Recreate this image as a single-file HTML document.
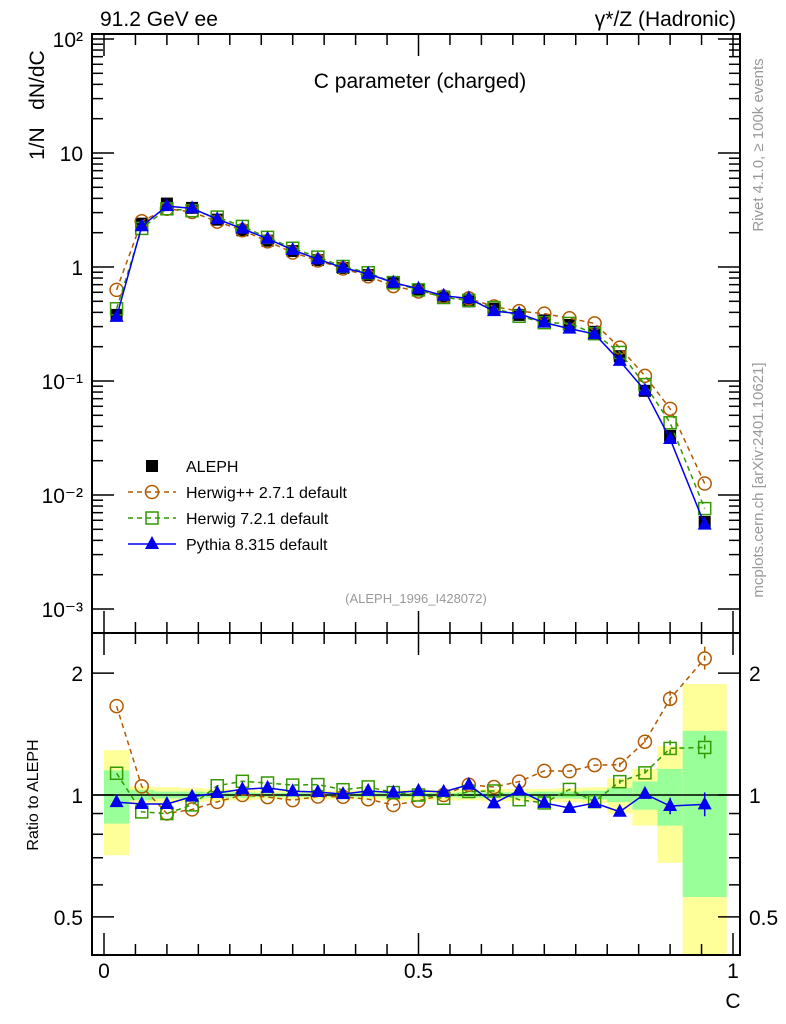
<!DOCTYPE html>
<html><head><meta charset="utf-8">
<style>
html,body{margin:0;padding:0;background:#fff;width:786px;height:1024px;overflow:hidden;}
svg{display:block;font-family:"Liberation Sans",sans-serif;}
</style></head>
<body>
<svg id="chart" width="786" height="1024" viewBox="0 0 786 1024" xmlns="http://www.w3.org/2000/svg">
<text x="100" y="26" font-size="21">91.2 GeV ee</text>
<text x="736" y="26" font-size="21" text-anchor="end">γ*/Z (Hadronic)</text>
<text x="420" y="88" font-size="21" text-anchor="middle">C parameter (charged)</text>
<text transform="translate(44,160) rotate(-90)" font-size="21">1/N&#160;&#160;&#160;dN/dC</text>
<text transform="translate(38,795) rotate(-90)" font-size="16" text-anchor="middle">Ratio to ALEPH</text>
<text x="733" y="1008" font-size="21" text-anchor="middle">C</text>
<text transform="translate(763,145) rotate(-90)" font-size="15" fill="#999" text-anchor="middle">Rivet 4.1.0, ≥ 100k events</text>
<text transform="translate(763,480) rotate(-90)" font-size="15" fill="#999" text-anchor="middle">mcplots.cern.ch [arXiv:2401.10621]</text>
<text x="416" y="603" font-size="13" fill="#999" text-anchor="middle">(ALEPH_1996_I428072)</text>
<g id="g"></g>
</svg>
<script>
const binLo = [0,0.04,0.08,0.12,0.16,0.20,0.24,0.28,0.32,0.36,0.40,0.44,0.48,0.52,0.56,0.60,0.64,0.68,0.72,0.76,0.80,0.84,0.88,0.92];
const binHi = [0.04,0.08,0.12,0.16,0.20,0.24,0.28,0.32,0.36,0.40,0.44,0.48,0.52,0.56,0.60,0.64,0.68,0.72,0.76,0.80,0.84,0.88,0.92,0.99];
const aleph = [0.38,2.4,3.6,3.3,2.6,2.1,1.7,1.38,1.15,0.98,0.85,0.72,0.63,0.55,0.5,0.43,0.38,0.34,0.31,0.27,0.165,0.082,0.033,0.0058];
const statErr = [0.15,0.03,0.02,0.02,0.015,0.015,0.012,0.012,0.012,0.012,0.012,0.012,0.012,0.012,0.015,0.015,0.015,0.02,0.02,0.025,0.04,0.08,0.16,0.44];
const totErr = [0.29,0.05,0.045,0.04,0.035,0.03,0.025,0.025,0.025,0.025,0.025,0.03,0.03,0.03,0.03,0.035,0.035,0.035,0.04,0.045,0.10,0.16,0.32,0.88];
const herwigpp = [0.63,2.52,3.24,3.04,2.5,2.1,1.68,1.34,1.14,0.97,0.83,0.68,0.61,0.55,0.53,0.45,0.41,0.39,0.355,0.32,0.196,0.111,0.057,0.0126];
const herwig7 = [0.43,2.18,3.24,3.12,2.74,2.27,1.82,1.46,1.22,1.01,0.89,0.73,0.63,0.54,0.51,0.44,0.37,0.325,0.32,0.26,0.178,0.093,0.043,0.0076];
const pythia = [0.365,2.28,3.42,3.27,2.63,2.17,1.77,1.41,1.17,0.985,0.87,0.73,0.645,0.56,0.53,0.41,0.39,0.325,0.288,0.258,0.15,0.0825,0.031,0.0055];
const mainTicks = ["10\u207B\u00B3","10\u207B\u00B2","10\u207B\u00B9","1","10","10\u00B2"];
const mainTickVals = [0.001,0.01,0.1,1,10,100];
const ratioTickLabels = ["0.5","1","2"];
const ratioTickVals = [0.5,1,2];
const xTickLabels = ["0","0.5","1"];
const xTickVals = [0,0.5,1];

const NS="http://www.w3.org/2000/svg";
const G=document.getElementById('g');
const L=92,R=740,T=34,MB=633,RB=955;
const X=c=>104+629*c;
const Y=v=>267-114*Math.log10(v);
const YR=r=>795-405*Math.log10(r);
function el(tag,attrs,parent){const e=document.createElementNS(NS,tag);for(const k in attrs)e.setAttribute(k,attrs[k]);(parent||G).appendChild(e);return e;}
const mid=i=>(binLo[i]+binHi[i])/2;

const clipR=el('clipPath',{id:'cr'});el('rect',{x:L,y:MB,width:R-L,height:RB-MB},clipR);
const bands=el('g',{'clip-path':'url(#cr)'});


for(let i=0;i<aleph.length;i++){
  const x0=X(binLo[i]),x1=X(binHi[i]);
  const lo=Math.max(1-totErr[i],0.05);
  const y=el('rect',{x:x0,y:YR(1+totErr[i]),width:x1-x0,height:YR(lo)-YR(1+totErr[i]),fill:'#ffff99'},bands);
  
  
  const g2=el('rect',{x:x0,y:YR(1+statErr[i]),width:x1-x0,height:YR(1-statErr[i])-YR(1+statErr[i]),fill:'#99ff99'},bands);
  
  
}
el('line',{x1:L,x2:R,y1:YR(1),y2:YR(1),stroke:'#000','stroke-width':1.5});

el('rect',{x:L,y:T,width:R-L,height:MB-T,fill:'none',stroke:'#000','stroke-width':2});
el('rect',{x:L,y:MB,width:R-L,height:RB-MB,fill:'none',stroke:'#000','stroke-width':2});

for(let d=-3;d<=2;d++){
  for(let m=1;m<=9;m++){
    const v=m*Math.pow(10,d); const y=Y(v);
    if(y<T-1||y>MB)continue;
    const len=m===1?22:11;
    el('line',{x1:L,x2:L+len,y1:y,y2:y,stroke:'#000','stroke-width':1.5});
    el('line',{x1:R,x2:R-len,y1:y,y2:y,stroke:'#000','stroke-width':1.5});
  }
}
mainTickVals.forEach((v,i)=>{const t=el('text',{x:83,y:Y(v)+8,'font-size':21,'text-anchor':'end'});t.textContent=mainTicks[i];

});
[0.4,0.5,0.6,0.7,0.8,0.9,1,2,3].forEach(v=>{const y=YR(v);if(y<MB||y>RB)return;const len=[0.5,1,2].includes(v)?22:11;
el('line',{x1:L,x2:L+len,y1:y,y2:y,stroke:'#000','stroke-width':1.5});
el('line',{x1:R,x2:R-len,y1:y,y2:y,stroke:'#000','stroke-width':1.5});});
ratioTickVals.forEach((v,i)=>{
 const a=el('text',{x:83,y:YR(v)+8,'font-size':21,'text-anchor':'end'});a.textContent=ratioTickLabels[i];
 
 
 const b=el('text',{x:749,y:YR(v)+8,'font-size':21});b.textContent=ratioTickLabels[i];
 
 });
for(let k=0;k<=20;k++){const c=k*0.05,x=X(c);const len=k%10===0?22:11;
 el('line',{x1:x,x2:x,y1:T,y2:T+len,stroke:'#000','stroke-width':1.5});
 el('line',{x1:x,x2:x,y1:MB,y2:MB-len,stroke:'#000','stroke-width':1.5});
 el('line',{x1:x,x2:x,y1:MB,y2:MB+len,stroke:'#000','stroke-width':1.5});
 el('line',{x1:x,x2:x,y1:RB,y2:RB-len,stroke:'#000','stroke-width':1.5});}
xTickVals.forEach((v,i)=>{const t=el('text',{x:X(v),y:978,'font-size':21,'text-anchor':'middle'});t.textContent=xTickLabels[i];

});

function marker(type,x,y,color,parent){
 if(type==='sq')return el('rect',{x:x-6,y:y-6,width:12,height:12,fill:'#000'},parent);
 if(type==='osq')return el('rect',{x:x-6,y:y-6,width:12,height:12,fill:'none',stroke:color,'stroke-width':1.5},parent);
 if(type==='circ')return el('circle',{cx:x,cy:y,r:6.5,fill:'none',stroke:color,'stroke-width':1.5},parent);
 if(type==='tri')return el('path',{d:`M${x},${y-8}L${x+7},${y+5}L${x-7},${y+5}Z`,fill:color},parent);
}
const series=[
 {name:'herwigpp',vals:herwigpp,color:'#b35900',m:'circ',dash:'5,4'},
 {name:'herwig7',vals:herwig7,color:'#339900',m:'osq',dash:'5,4'},
 {name:'pythia',vals:pythia,color:'#0000ee',m:'tri',dash:''}
];
const aG=el('g',{});


aleph.forEach((v,i)=>{const m=marker('sq',X(mid(i)),Y(v),'#000',aG);

});
series.forEach(s=>{
 const g=el('g',{});
 
 
 const pts=s.vals.map((v,i)=>X(mid(i))+','+Y(v)).join(' ');
 el('polyline',{points:pts,fill:'none',stroke:s.color,'stroke-width':1.5,'stroke-dasharray':s.dash},g);
 s.vals.forEach((v,i)=>{const m=marker(s.m,X(mid(i)),Y(v),s.color,g);
 
 });
 const gr=el('g',{'clip-path':'url(#cr)'});
 
 
 const rp=s.vals.map((v,i)=>X(mid(i))+','+YR(v/aleph[i])).join(' ');
 el('polyline',{points:rp,fill:'none',stroke:s.color,'stroke-width':1.5,'stroke-dasharray':s.dash},gr);
 s.vals.forEach((v,i)=>{const r=v/aleph[i],x=X(mid(i));
  const e=i>=20?Math.min(statErr[i]*0.3,0.07):0;
  if(e>0){el('line',{x1:x,x2:x,y1:YR(r*(1+e)),y2:YR(r/(1+e)),stroke:s.color,'stroke-width':1.5,'stroke-dasharray':s.dash},gr);}
  const m=marker(s.m,x,YR(r),s.color,gr);
  
  });
});
const lg=el('g',{});


const legItems=[['ALEPH','sq','#000',''],['Herwig++ 2.7.1 default','circ','#b35900','5,4'],['Herwig 7.2.1 default','osq','#339900','5,4'],['Pythia 8.315 default','tri','#0000ee','']];
legItems.forEach((it,i)=>{const y=466+26*i;
 if(i>0)el('line',{x1:128,x2:176,y1:y,y2:y,stroke:it[2],'stroke-width':1.5,'stroke-dasharray':it[3]},lg);
 marker(it[1],152,y,it[2],lg);
 const t=el('text',{x:186,y:y+6,'font-size':16},lg);t.textContent=it[0];
 
 });
</script>
</body></html>
